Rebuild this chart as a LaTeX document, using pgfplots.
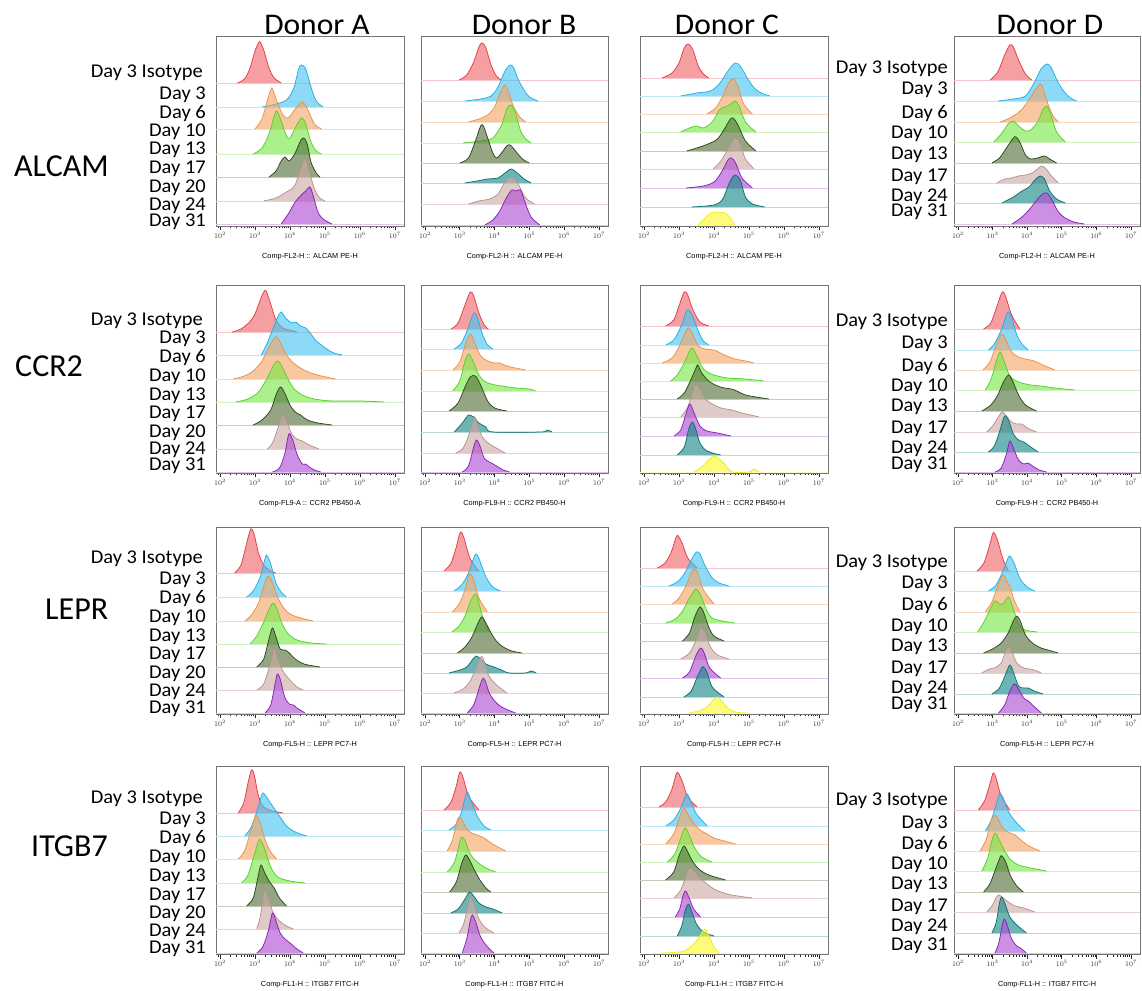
\documentclass[border=0pt]{standalone}
\usepackage{pgfplots}
\pgfplotsset{compat=1.18}
\usepackage{fontspec}
\setmainfont{Carlito}
\newfontfamily\arial{Liberation Sans}
\definecolor{cR}{RGB}{240,100,105}\definecolor{cRD}{RGB}{225,60,70}\definecolor{cRL}{RGB}{245,195,200}
\definecolor{cC}{RGB}{70,195,240}\definecolor{cCD}{RGB}{35,175,225}\definecolor{cCL}{RGB}{190,232,246}
\definecolor{cO}{RGB}{245,165,100}\definecolor{cOD}{RGB}{232,145,75}\definecolor{cOL}{RGB}{248,218,195}
\definecolor{cG}{RGB}{120,230,70}\definecolor{cGD}{RGB}{85,208,45}\definecolor{cGL}{RGB}{205,242,190}
\definecolor{cK}{RGB}{80,110,55}\definecolor{cKD}{RGB}{45,70,30}\definecolor{cKL}{RGB}{195,205,185}
\definecolor{cB}{RGB}{205,170,165}\definecolor{cBD}{RGB}{185,145,140}\definecolor{cBL}{RGB}{228,210,210}
\definecolor{cT}{RGB}{20,135,135}\definecolor{cTD}{RGB}{15,110,110}\definecolor{cTL}{RGB}{185,218,218}
\definecolor{cP}{RGB}{175,75,210}\definecolor{cPD}{RGB}{130,35,180}\definecolor{cPL}{RGB}{222,195,236}
\definecolor{cY}{RGB}{250,250,40}\definecolor{cYD}{RGB}{240,235,30}\definecolor{cYL}{RGB}{250,250,195}
\newcommand\tr[3]{%
\addplot[#1L, line width=0.7pt] coordinates {(1.8,#2) (7.4,#2)};
\addplot[draw=#1D, fill=#1, fill opacity=0.62, line width=0.75pt, smooth, tension=0.5, y filter/.expression={y+#2}] coordinates {#3};}
\pgfplotsset{panel/.style={scale only axis, anchor=south west, xmin=1.886, xmax=7.26, ymin=0,
 ytick=\empty, xtick={2,3,4,5,6,7},
 xticklabels={$10^{2}$,$10^{3}$,$10^{4}$,$10^{5}$,$10^{6}$,$10^{7}$},
 minor xtick={1.954,2.301,2.477,2.602,2.699,2.778,2.845,2.903,2.954,3.301,3.477,3.602,3.699,3.778,3.845,3.903,3.954,4.301,4.477,4.602,4.699,4.778,4.845,4.903,4.954,5.301,5.477,5.602,5.699,5.778,5.845,5.903,5.954,6.301,6.477,6.602,6.699,6.778,6.845,6.903,6.954},
 xtick pos=left, tick align=outside, major tick length=4.5pt, minor tick length=2.5pt,
 tick style={black!85, line width=0.6pt}, axis line style={black!55, line width=0.8pt},
 xticklabel style={font=\fontsize{6.8}{7}\selectfont, black!80, inner sep=1.5pt},
 xlabel style={font=\arial\fontsize{7.3}{8}\selectfont, at={(axis description cs:0.5,0)}, anchor=center, yshift=-31pt}}}
\newcommand\dayf{\fontsize{19.5}{19.5}\selectfont}
\newcommand\bigf{\fontsize{30}{30}\selectfont}
\newcommand\rowf{\fontsize{32}{32}\selectfont}
\newcommand\dl[3]{\node[anchor=base east,inner sep=0pt,font=\dayf,xscale=1.05] at (#1,#2) {#3};}
\begin{document}
\begin{tikzpicture}
\path[use as bounding box] (0,0) rectangle (1142pt,990pt);
% ---------------- Row 1 ALCAM
\begin{axis}[panel, at={(216pt,764pt)}, width=188pt, height=190pt, ymax=190, xlabel={Comp-FL2-H :: ALCAM PE-H}]
\tr{cR}{143}{(2.5,0)(2.7,4)(2.85,14)(3.0,32)(3.1,40)(3.15,41)(3.25,33)(3.4,15)(3.55,5)(3.75,0)}
\tr{cC}{119}{(3.2,0)(3.6,3)(3.9,7)(4.1,18)(4.25,38)(4.33,42)(4.45,38)(4.6,20)(4.75,6)(4.95,0)}
\tr{cO}{97}{(3.0,0)(3.2,10)(3.35,28)(3.48,41)(3.6,30)(3.8,14)(3.95,11)(4.15,20)(4.35,27)(4.5,20)(4.7,5)(4.9,0)}
\tr{cG}{72}{(2.95,0)(3.2,6)(3.4,20)(3.55,38)(3.62,43)(3.75,33)(3.9,18)(4.0,16)(4.15,26)(4.33,36)(4.45,30)(4.6,12)(4.75,3)(4.9,0)}
\tr{cK}{49}{(3.4,0)(3.6,6)(3.75,16)(3.86,20)(3.98,16)(4.15,24)(4.3,36)(4.4,39)(4.5,32)(4.6,15)(4.75,4)(4.86,0)}
\tr{cB}{25}{(3.25,0)(3.6,3)(3.85,8)(4.0,11)(4.15,16)(4.3,32)(4.43,42)(4.55,30)(4.7,12)(4.85,3)(5.0,0)}
\tr{cP}{2}{(3.75,0)(3.95,10)(4.15,22)(4.35,30)(4.45,33)(4.57,37)(4.65,30)(4.8,12)(4.95,5)(5.2,0)}
\end{axis}
\begin{axis}[panel, at={(421pt,764pt)}, width=187pt, height=190pt, ymax=190, xlabel={Comp-FL2-H :: ALCAM PE-H}]
\tr{cR}{146}{(2.98,0)(3.2,5)(3.4,18)(3.55,33)(3.64,37)(3.75,32)(3.9,15)(4.05,4)(4.2,0)}
\tr{cC}{125}{(3.15,0)(3.6,2)(3.9,5)(4.1,14)(4.3,30)(4.45,36)(4.55,33)(4.7,20)(4.9,8)(5.05,3)(5.25,0)}
\tr{cO}{104}{(3.25,0)(3.55,3)(3.8,7)(4.0,15)(4.15,28)(4.29,37)(4.4,30)(4.55,15)(4.75,4)(4.9,0)}
\tr{cG}{83}{(3.1,0)(3.6,2)(3.95,5)(4.2,18)(4.35,34)(4.48,38)(4.6,30)(4.75,12)(4.9,4)(5.05,0)}
\tr{cK}{63}{(3.0,0)(3.25,5)(3.45,22)(3.6,37)(3.68,37)(3.8,25)(3.95,10)(4.06,5)(4.2,10)(4.35,17)(4.45,18)(4.6,12)(4.8,4)(5.0,0)}
\tr{cT}{43}{(3.15,0)(3.5,2)(3.8,4)(4.1,5)(4.3,10)(4.48,14)(4.65,10)(4.85,4)(5.05,0)}
\tr{cB}{22}{(3.25,0)(3.55,3)(3.85,5)(4.1,10)(4.3,22)(4.5,27)(4.65,22)(4.85,8)(5.0,3)(5.15,0)}
\tr{cP}{1}{(3.72,0)(3.95,5)(4.15,14)(4.35,28)(4.5,35)(4.62,34)(4.75,35)(4.88,22)(5.05,8)(5.3,0)}
\end{axis}
\begin{axis}[panel, at={(640pt,764pt)}, width=188pt, height=190pt, ymax=190, xlabel={Comp-FL2-H :: ALCAM PE-H}]
\tr{cR}{148}{(2.52,0)(2.8,5)(3.0,15)(3.15,30)(3.27,34)(3.4,28)(3.55,12)(3.7,4)(3.85,0)}
\tr{cC}{130}{(3.05,0)(3.5,3)(3.9,5)(4.15,12)(4.4,25)(4.6,33)(4.75,30)(4.95,18)(5.15,8)(5.35,3)(5.6,0)}
\tr{cO}{112}{(3.8,0)(4.05,6)(4.25,18)(4.4,30)(4.55,35)(4.68,28)(4.85,10)(5.1,0)}
\tr{cG}{94}{(3.05,0)(3.3,4)(3.5,6)(3.7,4)(3.95,10)(4.15,22)(4.3,25)(4.45,27)(4.6,31)(4.72,26)(4.9,10)(5.2,0)}
\tr{cK}{75}{(3.22,0)(3.6,4)(3.9,8)(4.1,12)(4.3,22)(4.45,31)(4.55,33)(4.7,25)(4.9,10)(5.2,0)}
\tr{cB}{57}{(3.98,0)(4.2,8)(4.4,20)(4.55,30)(4.64,31)(4.75,25)(4.9,10)(5.15,0)}
\tr{cP}{38}{(3.2,0)(3.7,2)(4.0,6)(4.2,15)(4.4,28)(4.5,30)(4.62,25)(4.8,10)(5.1,0)}
\tr{cT}{19}{(3.37,0)(4.0,2)(4.25,8)(4.45,25)(4.6,32)(4.75,27)(4.9,10)(5.1,3)(5.45,0)}
\tr{cY}{1}{(3.55,0)(3.75,7)(3.9,12)(4.1,13)(4.3,12)(4.42,9)(4.6,0)}
\end{axis}
\begin{axis}[panel, at={(954pt,764pt)}, width=186pt, height=190pt, ymax=190, xlabel={Comp-FL2-H :: ALCAM PE-H}]
\tr{cR}{146}{(2.93,0)(3.15,8)(3.35,25)(3.5,35)(3.6,33)(3.75,20)(3.95,6)(4.13,0)}
\tr{cC}{125}{(3.17,0)(3.6,2)(3.95,5)(4.2,18)(4.4,32)(4.57,37)(4.7,33)(4.9,18)(5.1,8)(5.25,3)(5.43,0)}
\tr{cO}{104}{(3.22,0)(3.5,4)(3.8,11)(4.05,22)(4.25,33)(4.38,38)(4.45,34)(4.6,18)(4.75,6)(4.9,0)}
\tr{cG}{84}{(3.03,0)(3.25,8)(3.45,18)(3.6,21)(3.75,16)(3.95,11)(4.1,12)(4.3,20)(4.45,32)(4.57,36)(4.68,28)(4.85,10)(5.1,0)}
\tr{cK}{63}{(2.98,0)(3.2,5)(3.4,15)(3.6,25)(3.68,26)(3.8,20)(3.95,8)(4.1,4)(4.3,5)(4.5,7)(4.65,4)(4.85,0)}
\tr{cB}{43}{(3.12,0)(3.35,4)(3.55,5)(3.75,7)(3.95,8)(4.15,10)(4.3,14)(4.42,17)(4.55,14)(4.7,7)(4.9,0)}
\tr{cT}{23}{(3.27,0)(3.6,6)(3.85,12)(4.05,16)(4.25,24)(4.38,27)(4.5,24)(4.65,12)(4.85,4)(5.1,0)}
\tr{cP}{2}{(3.56,0)(3.85,7)(4.1,16)(4.3,25)(4.45,30)(4.57,31)(4.7,25)(4.9,12)(5.1,6)(5.35,2)(5.65,0)}
\end{axis}
% ---------------- Row 2 CCR2
\begin{axis}[panel, at={(216pt,517pt)}, width=188pt, height=188pt, ymax=188, xlabel={Comp-FL9-A :: CCR2 PB450-A}]
\tr{cR}{141}{(2.35,0)(2.6,3)(2.85,10)(3.0,18)(3.15,32)(3.25,40)(3.32,41)(3.45,28)(3.6,12)(3.8,4)(4.1,1)(4.2,0)}
\tr{cC}{118}{(3.18,0)(3.35,12)(3.5,25)(3.65,38)(3.75,43)(3.9,36)(4.05,32)(4.17,33)(4.3,29)(4.45,27)(4.6,21)(4.75,14)(4.9,10)(5.05,6)(5.25,2)(5.5,0)}
\tr{cO}{94}{(2.38,0)(2.7,3)(2.95,8)(3.2,18)(3.4,32)(3.55,41)(3.62,42)(3.75,35)(3.9,24)(4.1,16)(4.35,10)(4.6,6)(4.9,3)(5.3,0)}
\tr{cG}{71}{(2.45,0)(2.8,3)(3.1,10)(3.35,24)(3.55,38)(3.65,41)(3.75,37)(3.9,26)(4.1,14)(4.35,7)(4.7,3)(5.2,1)(6.0,1)(6.7,0)}
\tr{cK}{48}{(2.95,0)(3.2,5)(3.45,15)(3.6,30)(3.73,38)(3.85,32)(4.0,20)(4.15,13)(4.3,10)(4.5,5)(4.8,2)(5.2,0)}
\tr{cB}{24}{(3.35,0)(3.5,6)(3.65,20)(3.79,35)(3.9,28)(4.05,15)(4.2,10)(4.35,8)(4.55,4)(4.83,0)}
\tr{cP}{1}{(3.5,0)(3.7,4)(3.85,18)(3.95,36)(4.0,38)(4.1,30)(4.2,18)(4.35,8)(4.45,8)(4.55,5)(4.7,2)(4.88,0)}
\end{axis}
\begin{axis}[panel, at={(421pt,517pt)}, width=187pt, height=188pt, ymax=188, xlabel={Comp-FL9-H :: CCR2 PB450-H}]
\tr{cR}{144}{(2.75,0)(2.95,6)(3.15,24)(3.3,37)(3.4,33)(3.55,16)(3.7,4)(3.82,0)}
\tr{cC}{124}{(2.84,0)(3.05,6)(3.25,22)(3.4,36)(3.5,32)(3.65,15)(3.8,4)(3.96,0)}
\tr{cO}{103}{(2.8,0)(3.0,8)(3.2,30)(3.31,36)(3.42,28)(3.6,14)(3.8,9)(4.0,7)(4.15,7)(4.35,4)(4.6,2)(4.9,0)}
\tr{cG}{82}{(2.8,0)(3.0,10)(3.15,30)(3.26,37)(3.38,30)(3.55,16)(3.7,10)(3.9,7)(4.2,5)(4.6,3)(5.0,2)(5.18,0)}
\tr{cK}{62}{(2.7,0)(2.95,8)(3.15,24)(3.3,34)(3.45,35)(3.6,26)(3.8,10)(4.0,3)(4.35,0)}
\tr{cT}{41}{(2.84,0)(3.05,8)(3.2,15)(3.26,17)(3.4,15)(3.55,9)(3.75,5)(3.95,0)(5.35,0)(5.5,2)(5.65,0)}
\tr{cB}{20}{(2.88,0)(3.1,5)(3.3,22)(3.42,36)(3.52,28)(3.65,16)(3.85,9)(4.05,5)(4.3,0)}
\tr{cP}{1}{(3.07,0)(3.25,6)(3.4,25)(3.48,32)(3.58,26)(3.7,14)(3.85,10)(3.96,8)(4.1,5)(4.25,2)(4.43,0)}
\end{axis}
\begin{axis}[panel, at={(640pt,517pt)}, width=188pt, height=188pt, ymax=188, xlabel={Comp-FL9-H :: CCR2 PB450-H}]
\tr{cR}{147}{(2.62,0)(2.85,6)(3.0,20)(3.15,34)(3.25,31)(3.4,16)(3.6,4)(3.85,0)}
\tr{cC}{128}{(2.62,0)(2.85,5)(3.05,18)(3.2,33)(3.27,35)(3.38,30)(3.55,14)(3.7,4)(3.86,0)}
\tr{cO}{110}{(2.52,0)(2.8,5)(3.0,16)(3.2,32)(3.29,35)(3.4,28)(3.55,17)(3.75,14)(4.0,13)(4.3,8)(4.6,4)(4.9,2)(5.14,0)}
\tr{cG}{92}{(2.76,0)(2.95,6)(3.15,18)(3.3,30)(3.38,33)(3.5,26)(3.7,12)(4.0,6)(4.4,3)(4.9,2)(5.43,0)}
\tr{cK}{74}{(2.95,0)(3.15,6)(3.35,20)(3.5,32)(3.54,34)(3.65,26)(3.85,18)(4.1,13)(4.3,11)(4.5,10)(4.65,8)(4.9,4)(5.2,2)(5.57,0)}
\tr{cB}{56}{(3.05,0)(3.25,10)(3.42,28)(3.5,33)(3.6,28)(3.75,18)(3.95,13)(4.2,9)(4.5,7)(4.8,4)(5.05,2)(5.29,0)}
\tr{cP}{37}{(2.86,0)(3.05,6)(3.2,22)(3.31,32)(3.42,24)(3.6,10)(3.8,5)(4.1,3)(4.48,0)}
\tr{cT}{18}{(2.95,0)(3.15,8)(3.28,26)(3.38,33)(3.48,26)(3.6,12)(3.8,4)(4.19,0)}
\tr{cY}{1}{(3.43,0)(3.65,5)(3.85,12)(4.0,16)(4.15,13)(4.3,8)(4.52,0)(5.0,0)(5.14,3)(5.3,0)}
\end{axis}
\begin{axis}[panel, at={(954pt,517pt)}, width=186pt, height=188pt, ymax=188, xlabel={Comp-FL9-H :: CCR2 PB450-H}]
\tr{cR}{144}{(2.74,0)(2.95,6)(3.12,22)(3.28,37)(3.38,32)(3.55,14)(3.79,0)}
\tr{cC}{123}{(2.88,0)(3.05,6)(3.25,20)(3.4,35)(3.46,38)(3.56,32)(3.7,15)(3.85,6)(4.03,0)}
\tr{cO}{103}{(2.72,0)(2.92,8)(3.1,24)(3.26,36)(3.38,30)(3.55,18)(3.75,13)(3.95,11)(4.2,9)(4.45,5)(4.8,0)}
\tr{cG}{83}{(2.79,0)(2.95,10)(3.1,28)(3.22,38)(3.32,30)(3.5,14)(3.75,8)(4.1,5)(4.4,4)(4.8,2)(5.37,0)}
\tr{cK}{62}{(2.69,0)(2.95,6)(3.15,16)(3.3,28)(3.46,36)(3.58,30)(3.75,16)(3.95,6)(4.27,0)}
\tr{cB}{41}{(2.83,0)(3.0,6)(3.15,14)(3.28,20)(3.4,16)(3.55,10)(3.7,8)(3.84,8)(4.0,4)(4.27,0)}
\tr{cT}{21}{(2.88,0)(3.05,6)(3.2,20)(3.32,34)(3.38,36)(3.48,30)(3.6,18)(3.75,12)(3.9,10)(4.1,5)(4.32,0)}
\tr{cP}{1}{(3.07,0)(3.25,4)(3.4,18)(3.5,31)(3.6,24)(3.75,12)(3.9,8)(4.03,9)(4.15,6)(4.35,2)(4.56,0)}
\end{axis}
% ---------------- Row 3 LEPR
\begin{axis}[panel, at={(216pt,276pt)}, width=188pt, height=187pt, ymax=187, xlabel={Comp-FL5-H :: LEPR PC7-H}]
\tr{cR}{141}{(2.42,0)(2.6,8)(2.75,28)(2.88,44)(2.98,38)(3.1,20)(3.25,8)(3.45,2)(3.6,0)}
\tr{cC}{117}{(2.76,0)(2.95,6)(3.15,20)(3.3,40)(3.35,41)(3.45,33)(3.6,14)(3.75,5)(3.9,0)}
\tr{cO}{93}{(2.71,0)(2.9,6)(3.1,18)(3.28,38)(3.38,45)(3.48,40)(3.62,26)(3.8,14)(4.0,7)(4.3,3)(4.67,0)}
\tr{cG}{70}{(2.86,0)(3.05,8)(3.25,22)(3.42,36)(3.52,41)(3.62,36)(3.78,20)(3.95,10)(4.2,4)(4.6,1)(5.05,0)}
\tr{cK}{47}{(3.05,0)(3.25,8)(3.4,28)(3.5,39)(3.6,30)(3.72,18)(3.86,17)(3.98,14)(4.15,8)(4.4,3)(4.86,0)}
\tr{cB}{24}{(3.05,0)(3.25,6)(3.42,24)(3.55,42)(3.65,32)(3.78,20)(3.9,14)(4.05,8)(4.2,3)(4.38,0)}
\tr{cP}{1}{(3.29,0)(3.45,8)(3.58,30)(3.64,39)(3.72,34)(3.85,16)(3.98,9)(4.1,8)(4.2,5)(4.43,0)}
\end{axis}
\begin{axis}[panel, at={(421pt,276pt)}, width=187pt, height=187pt, ymax=187, xlabel={Comp-FL5-H :: LEPR PC7-H}]
\tr{cR}{143}{(2.55,0)(2.75,8)(2.9,24)(3.02,39)(3.12,33)(3.3,12)(3.55,0)}
\tr{cC}{123}{(2.83,0)(3.05,6)(3.25,18)(3.4,33)(3.48,37)(3.58,30)(3.75,14)(3.95,4)(4.17,0)}
\tr{cO}{102}{(2.78,0)(2.98,8)(3.15,22)(3.25,36)(3.31,38)(3.4,32)(3.55,14)(3.79,0)}
\tr{cG}{82}{(2.77,0)(2.98,6)(3.15,16)(3.3,30)(3.44,38)(3.52,33)(3.65,16)(3.84,0)}
\tr{cK}{61}{(2.93,0)(3.15,6)(3.35,16)(3.5,28)(3.63,36)(3.75,30)(3.9,20)(4.05,12)(4.25,6)(4.5,2)(4.79,0)}
\tr{cT}{41}{(2.69,0)(3.0,3)(3.2,6)(3.38,14)(3.48,17)(3.6,14)(3.75,9)(3.98,6)(4.2,3)(4.41,0)(4.9,0)(5.05,2)(5.2,0)}
\tr{cB}{21}{(2.83,0)(3.1,4)(3.3,12)(3.48,26)(3.6,36)(3.68,34)(3.82,18)(4.0,10)(4.2,4)(4.36,0)}
\tr{cP}{1}{(3.21,0)(3.4,8)(3.55,24)(3.65,34)(3.72,33)(3.85,20)(4.0,12)(4.2,6)(4.6,0)}
\end{axis}
\begin{axis}[panel, at={(640pt,276pt)}, width=188pt, height=187pt, ymax=187, xlabel={Comp-FL5-H :: LEPR PC7-H}]
\tr{cR}{146}{(2.38,0)(2.6,5)(2.78,16)(2.92,31)(2.98,32)(3.1,24)(3.25,10)(3.52,0)}
\tr{cC}{128}{(2.71,0)(2.95,4)(3.15,12)(3.35,26)(3.5,34)(3.6,32)(3.75,20)(3.95,8)(4.15,3)(4.43,0)}
\tr{cO}{110}{(2.81,0)(3.0,6)(3.2,18)(3.35,31)(3.46,35)(3.55,30)(3.7,14)(4.0,0)}
\tr{cG}{91}{(2.62,0)(2.9,4)(3.1,12)(3.3,25)(3.45,33)(3.5,34)(3.62,28)(3.8,12)(4.0,4)(4.6,0)}
\tr{cK}{73}{(3.1,0)(3.3,8)(3.45,24)(3.6,34)(3.7,29)(3.85,14)(4.0,5)(4.29,0)}
\tr{cB}{55}{(3.05,0)(3.3,6)(3.48,18)(3.6,30)(3.65,31)(3.75,26)(3.9,12)(4.1,4)(4.43,0)}
\tr{cP}{36}{(3.1,0)(3.3,6)(3.48,22)(3.62,30)(3.72,25)(3.88,10)(4.19,0)}
\tr{cT}{17}{(3.14,0)(3.35,6)(3.52,20)(3.65,29)(3.7,30)(3.8,25)(3.95,10)(4.29,0)}
\tr{cY}{1}{(3.29,0)(3.55,2)(3.8,6)(3.98,13)(4.1,16)(4.22,12)(4.4,5)(4.6,1)(4.9,0)}
\end{axis}
\begin{axis}[panel, at={(954pt,276pt)}, width=186pt, height=187pt, ymax=187, xlabel={Comp-FL5-H :: LEPR PC7-H}]
\tr{cR}{143}{(2.55,0)(2.75,8)(2.9,24)(3.0,37)(3.05,38)(3.15,30)(3.3,12)(3.46,0)}
\tr{cC}{123}{(2.88,0)(3.1,6)(3.3,20)(3.45,33)(3.5,35)(3.62,28)(3.8,12)(4.0,4)(4.22,0)}
\tr{cO}{102}{(2.79,0)(2.98,10)(3.15,26)(3.3,37)(3.42,30)(3.5,26)(3.62,12)(3.79,0)}
\tr{cG}{82}{(2.57,0)(2.75,10)(2.95,24)(3.07,31)(3.2,28)(3.3,28)(3.46,35)(3.58,25)(3.75,8)(3.93,2)(4.3,0)}
\tr{cK}{61}{(2.74,0)(3.0,4)(3.25,10)(3.45,20)(3.6,32)(3.7,37)(3.8,32)(3.95,18)(4.15,10)(4.4,5)(4.6,3)(4.89,0)}
\tr{cB}{41}{(2.69,0)(2.9,4)(3.05,5)(3.25,10)(3.38,22)(3.46,27)(3.55,22)(3.7,10)(3.9,5)(4.08,4)(4.2,3)(4.41,0)}
\tr{cT}{20}{(2.98,0)(3.2,6)(3.38,20)(3.5,29)(3.6,22)(3.75,8)(3.9,6)(4.03,6)(4.2,3)(4.46,0)}
\tr{cP}{1}{(3.17,0)(3.35,8)(3.5,22)(3.63,29)(3.75,24)(3.9,15)(4.03,12)(4.15,8)(4.41,0)}
\end{axis}
% ---------------- Row 4 ITGB7
\begin{axis}[panel, at={(216pt,36pt)}, width=188pt, height=188pt, ymax=188, xlabel={Comp-FL1-H :: ITGB7 FITC-H}]
\tr{cR}{141}{(2.52,0)(2.68,10)(2.8,30)(2.9,43)(2.98,38)(3.08,20)(3.2,8)(3.4,3)(3.8,0)}
\tr{cC}{118}{(2.71,0)(2.88,8)(3.05,24)(3.18,40)(3.24,43)(3.35,38)(3.5,30)(3.7,20)(3.9,10)(4.15,4)(4.48,0)}
\tr{cO}{95}{(2.52,0)(2.7,8)(2.88,28)(3.0,42)(3.05,43)(3.15,36)(3.3,18)(3.45,7)(3.62,0)}
\tr{cG}{71}{(2.62,0)(2.8,8)(2.98,28)(3.1,42)(3.16,43)(3.28,34)(3.45,16)(3.65,6)(4.0,2)(4.43,0)}
\tr{cK}{48}{(2.76,0)(2.95,8)(3.08,28)(3.17,41)(3.28,33)(3.42,24)(3.55,18)(3.7,8)(3.9,0)}
\tr{cB}{25}{(3.05,0)(3.15,12)(3.25,35)(3.29,39)(3.38,32)(3.52,16)(3.7,8)(3.9,3)(4.1,0)}
\tr{cP}{1}{(3.05,0)(3.22,6)(3.38,22)(3.5,40)(3.6,32)(3.72,20)(3.86,14)(4.0,10)(4.2,4)(4.38,0)}
\end{axis}
\begin{axis}[panel, at={(421pt,36pt)}, width=187pt, height=188pt, ymax=188, xlabel={Comp-FL1-H :: ITGB7 FITC-H}]
\tr{cR}{144}{(2.55,0)(2.75,8)(2.9,24)(3.0,38)(3.1,32)(3.25,14)(3.55,0)}
\tr{cC}{124}{(2.69,0)(2.9,6)(3.05,18)(3.15,32)(3.22,38)(3.32,30)(3.5,14)(3.7,4)(3.89,0)}
\tr{cO}{103}{(2.64,0)(2.8,12)(2.92,30)(2.98,34)(3.08,30)(3.2,22)(3.35,18)(3.5,16)(3.7,13)(3.9,8)(4.1,4)(4.32,0)}
\tr{cG}{82}{(2.64,0)(2.85,10)(3.0,30)(3.07,35)(3.17,30)(3.3,18)(3.5,10)(3.75,4)(4.03,0)}
\tr{cK}{62}{(2.71,0)(2.9,10)(3.05,28)(3.17,37)(3.28,32)(3.42,22)(3.58,12)(3.75,4)(3.89,0)}
\tr{cT}{41}{(2.74,0)(2.95,4)(3.15,14)(3.28,21)(3.4,17)(3.55,10)(3.75,6)(3.95,4)(4.22,0)}
\tr{cB}{21}{(2.98,0)(3.12,10)(3.25,30)(3.31,37)(3.4,30)(3.55,14)(3.75,5)(3.98,0)}
\tr{cP}{1}{(3.07,0)(3.2,14)(3.3,32)(3.36,38)(3.45,32)(3.6,16)(3.8,6)(3.98,0)}
\end{axis}
\begin{axis}[panel, at={(640pt,36pt)}, width=188pt, height=188pt, ymax=188, xlabel={Comp-FL1-H :: ITGB7 FITC-H}]
\tr{cR}{147}{(2.43,0)(2.62,5)(2.8,18)(2.92,33)(2.98,34)(3.1,25)(3.25,10)(3.52,0)}
\tr{cC}{128}{(2.62,0)(2.85,6)(3.05,18)(3.18,30)(3.24,32)(3.35,24)(3.5,12)(3.81,0)}
\tr{cO}{110}{(2.62,0)(2.85,10)(3.0,25)(3.14,36)(3.25,30)(3.4,22)(3.6,14)(3.8,10)(4.0,6)(4.3,3)(4.62,0)}
\tr{cG}{92}{(2.67,0)(2.88,8)(3.05,24)(3.17,34)(3.28,28)(3.45,14)(3.65,5)(3.95,0)}
\tr{cK}{74}{(2.62,0)(2.85,8)(3.0,24)(3.14,34)(3.25,28)(3.4,18)(3.6,10)(3.85,5)(4.33,0)}
\tr{cB}{56}{(2.86,0)(3.05,8)(3.2,22)(3.29,30)(3.42,28)(3.6,20)(3.8,14)(4.0,9)(4.2,6)(4.5,3)(5.1,0)}
\tr{cP}{37}{(2.89,0)(3.02,8)(3.12,22)(3.19,26)(3.28,20)(3.42,8)(3.62,0)}
\tr{cT}{18}{(2.95,0)(3.08,10)(3.18,26)(3.27,32)(3.35,26)(3.5,12)(3.7,4)(4.0,0)}
\tr{cY}{1}{(2.52,0)(3.0,1)(3.2,3)(3.45,10)(3.65,20)(3.74,24)(3.85,18)(4.0,6)(4.15,0)}
\end{axis}
\begin{axis}[panel, at={(954pt,36pt)}, width=186pt, height=188pt, ymax=188, xlabel={Comp-FL1-H :: ITGB7 FITC-H}]
\tr{cR}{144}{(2.59,0)(2.78,10)(2.92,26)(3.02,37)(3.1,32)(3.25,14)(3.5,0)}
\tr{cC}{123}{(2.79,0)(2.95,10)(3.1,26)(3.2,37)(3.22,38)(3.32,32)(3.45,20)(3.6,12)(3.75,6)(3.93,0)}
\tr{cO}{103}{(2.64,0)(2.82,12)(2.95,30)(3.07,36)(3.18,30)(3.32,22)(3.5,18)(3.65,16)(3.85,10)(4.05,5)(4.37,0)}
\tr{cG}{83}{(2.69,0)(2.85,12)(2.98,30)(3.07,38)(3.18,32)(3.32,22)(3.5,12)(3.75,6)(4.1,3)(4.56,0)}
\tr{cK}{62}{(2.74,0)(2.92,8)(3.1,24)(3.22,35)(3.27,36)(3.38,30)(3.52,16)(3.7,6)(3.89,0)}
\tr{cB}{42}{(2.83,0)(2.98,6)(3.1,14)(3.17,17)(3.28,15)(3.45,10)(3.65,6)(3.9,4)(4.22,0)}
\tr{cT}{21}{(2.98,0)(3.1,10)(3.2,30)(3.26,36)(3.35,30)(3.5,16)(3.7,8)(3.98,0)}
\tr{cP}{1}{(3.07,0)(3.18,10)(3.28,28)(3.34,34)(3.42,28)(3.55,14)(3.7,7)(3.8,5)(3.98,0)}
\end{axis}
% ---------------- Text
\begin{scope}[x=1pt,y=-1pt,shift={(0pt,990pt)}]
\foreach \xx/\tt in {317/A,524/B,727/C,1050/D}{\node[anchor=base,inner sep=0pt,font=\bigf,xscale=1.05] at (\xx,35) {Donor \tt};}
\node[anchor=base west,inner sep=0pt,font=\rowf] at (14,177) {ALCAM};
\node[anchor=base west,inner sep=0pt,font=\rowf] at (15,377) {CCR2};
\node[anchor=base west,inner sep=0pt,font=\rowf] at (45,620) {LEPR};
\node[anchor=base west,inner sep=0pt,font=\rowf] at (31,857) {ITGB7};
% Donor A labels
\dl{203}{77.3}{Day 3 Isotype}\dl{206}{99.3}{Day 3}\dl{206}{118.3}{Day 6}\dl{206}{136.7}{Day 10}\dl{206}{155}{Day 13}\dl{206}{174}{Day 17}\dl{206}{192.7}{Day 20}\dl{206}{211}{Day 24}\dl{206}{226.7}{Day 31}
\dl{203}{326}{Day 3 Isotype}\dl{206}{344}{Day 3}\dl{206}{363}{Day 6}\dl{206}{382}{Day 10}\dl{206}{401}{Day 13}\dl{206}{419}{Day 17}\dl{206}{438}{Day 20}\dl{206}{455}{Day 24}\dl{206}{471}{Day 31}
\dl{203}{564}{Day 3 Isotype}\dl{206}{585}{Day 3}\dl{206}{604}{Day 6}\dl{206}{622.7}{Day 10}\dl{206}{641.7}{Day 13}\dl{206}{660}{Day 17}\dl{206}{678.3}{Day 20}\dl{206}{696.7}{Day 24}\dl{206}{713.3}{Day 31}
\dl{203}{803.3}{Day 3 Isotype}\dl{206}{825}{Day 3}\dl{206}{843.3}{Day 6}\dl{206}{862.7}{Day 10}\dl{206}{881.7}{Day 13}\dl{206}{900}{Day 17}\dl{206}{918.3}{Day 20}\dl{206}{936.7}{Day 24}\dl{206}{953.3}{Day 31}
% Donor D labels
\dl{948}{74}{Day 3 Isotype}\dl{948}{95}{Day 3}\dl{948}{118.3}{Day 6}\dl{948}{138.3}{Day 10}\dl{948}{160}{Day 13}\dl{948}{181.7}{Day 17}\dl{948}{201.7}{Day 24}\dl{948}{216.7}{Day 31}
\dl{948}{326.7}{Day 3 Isotype}\dl{948}{348.3}{Day 3}\dl{948}{371.7}{Day 6}\dl{948}{391.7}{Day 10}\dl{948}{411.7}{Day 13}\dl{948}{433.3}{Day 17}\dl{948}{453.3}{Day 24}\dl{948}{470}{Day 31}
\dl{948}{567.3}{Day 3 Isotype}\dl{948}{588.3}{Day 3}\dl{948}{610.7}{Day 6}\dl{948}{631.7}{Day 10}\dl{948}{651.7}{Day 13}\dl{948}{673.3}{Day 17}\dl{948}{693.3}{Day 24}\dl{948}{710}{Day 31}
\dl{948}{806}{Day 3 Isotype}\dl{948}{828.3}{Day 3}\dl{948}{850}{Day 6}\dl{948}{870}{Day 10}\dl{948}{890}{Day 13}\dl{948}{911.7}{Day 17}\dl{948}{931.7}{Day 24}\dl{948}{950}{Day 31}
\end{scope}
\end{tikzpicture}
\end{document}
